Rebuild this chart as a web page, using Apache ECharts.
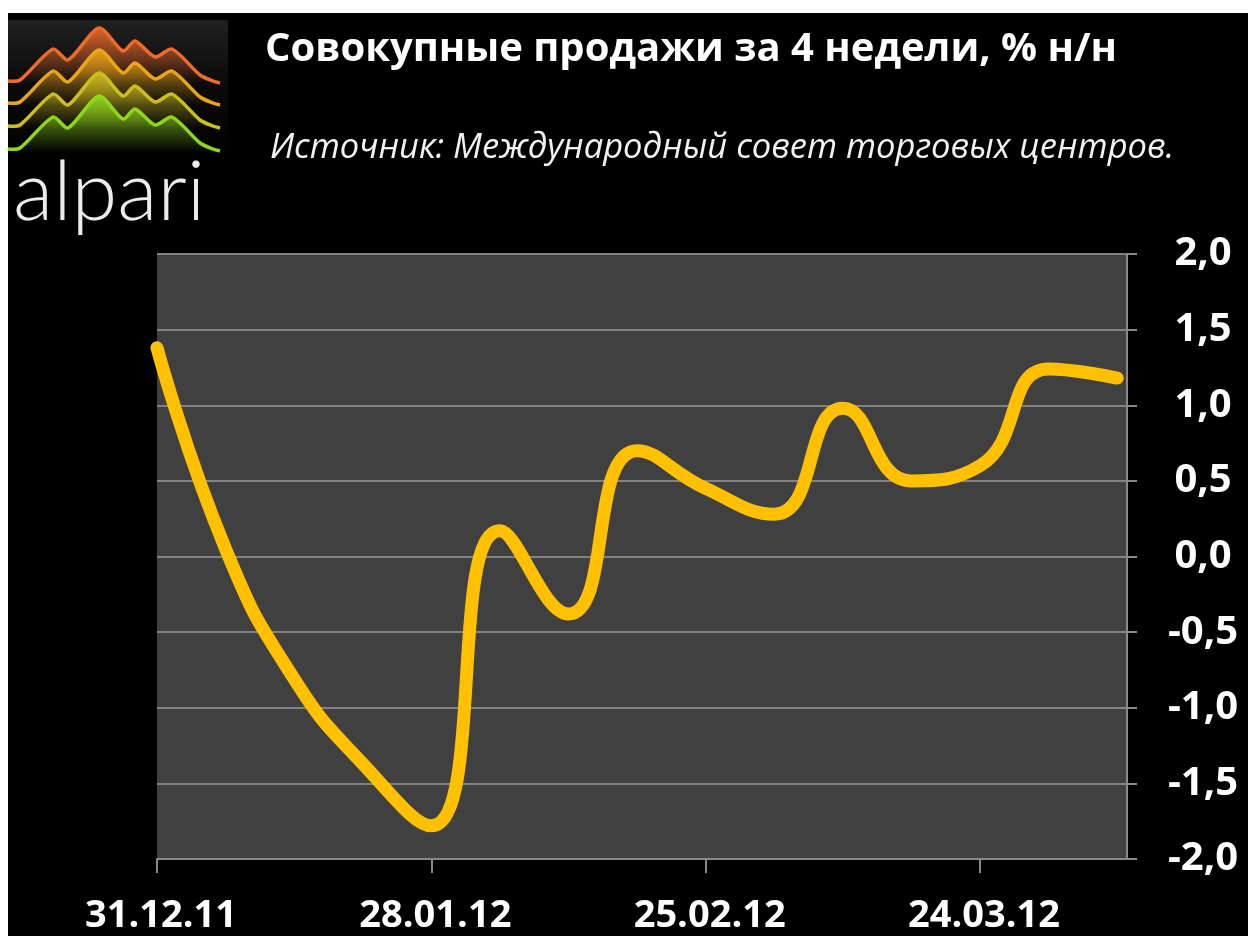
<!DOCTYPE html>
<html>
<head>
<meta charset="utf-8">
<script src="https://cdn.jsdelivr.net/npm/echarts@6/dist/echarts.min.js"></script>
<style>
html,body{margin:0;padding:0;background:#ffffff;width:1248px;height:936px;overflow:hidden;}
#main{position:absolute;left:8px;top:13px;width:1240px;height:923px;background:#000000;}
</style>
</head>
<body>
<div id="main"></div>
<script>
// ---- data ----
const dates = ['31.12.11','07.01.12','14.01.12','21.01.12','28.01.12','04.02.12','11.02.12','18.02.12',
               '25.02.12','03.03.12','10.03.12','17.03.12','24.03.12','31.03.12','07.04.12'];
const values = [1.38, 0.05, -0.81, -1.37, -1.78, 0.17, -0.38, 0.70, 0.45, 0.28, 0.98, 0.50, 0.60, 1.24, 1.18];
const xTickLabels = ['31.12.11','28.01.12','25.02.12','24.03.12'];
const yTickValues = [-2.0, -1.5, -1.0, -0.5, 0.0, 0.5, 1.0, 1.5, 2.0];
const titleText = 'Совокупные продажи за 4 недели, % н/н';
const subtitleText = 'Источник: Международный совет торговых центров.';
const logoText = 'alpari';

function toDate(s){ const p = s.split('.'); return Date.UTC(2000 + (+p[2]), (+p[1]) - 1, +p[0]); }
const d0 = toDate(dates[0]);
function dayOffset(s){ return Math.round((toDate(s) - d0) / 86400000); }
const seriesData = dates.map((d, i) => [dayOffset(d), values[i]]);

// ---- logo (decoration, chart-local coordinates) ----
const base = [[0,68],[12,67],[45,36],[60,47],[91,15],[115,38],[127,28],[147,44],[164,36],[192,62],[205,68],[212,70]];
const logoColors = ['#ee6b2a', '#eaa616', '#cdbf1e', '#8ed81c'];
const logoOffsets = [0, 22, 45, 68];
const logoEls = [{
  type: 'rect', shape: {x: 0, y: 7, width: 220, height: 140},
  style: {fill: new echarts.graphic.LinearGradient(0,0,0,1,[{offset:0,color:'#202020'},{offset:0.45,color:'#0b0b0b'},{offset:1,color:'#000'}])}
}];
logoColors.forEach((c, k) => {
  const pts = base.map(p => [p[0], p[1] + logoOffsets[k]]);
  const bottom = k === 3 ? 142 : 70 + logoOffsets[k] + 30;
  const poly = pts.concat([[212, bottom], [0, bottom]]);
  logoEls.push({
    type: 'polygon', shape: {points: poly, smooth: 0},
    style: {fill: new echarts.graphic.LinearGradient(0,0,0,1,[{offset:0,color:echarts.color.modifyAlpha(c,0.9)},{offset:k === 3 ? 0.95 : 0.65,color:echarts.color.modifyAlpha(c,0.0)}])}
  });
  logoEls.push({
    type: 'polyline', shape: {points: pts, smooth: 0.25},
    style: {stroke: c, lineWidth: 3.5, fill: null}
  });
});

const chart = echarts.init(document.getElementById('main'), null, {renderer: 'canvas'});
chart.setOption({
  backgroundColor: '#000000',
  animation: false,
  graphic: [
    {type: 'group', children: logoEls},
    {type: 'text', x: 5, y: 139, style: {text: logoText, fill: '#ececec', font: '300 83px Lato, "Open Sans", sans-serif'}},
    {type: 'text', x: 257, y: 17, style: {text: titleText, fill: '#ffffff', font: 'bold 40px "Open Sans", "Noto Sans", sans-serif'}},
    {type: 'text', x: 262, y: 118, style: {text: subtitleText, fill: '#f2f2f2', font: 'italic 34.5px "Open Sans", "Noto Sans", sans-serif'}}
  ],
  grid: {left: 149, top: 241, width: 970, height: 605, show: true, backgroundColor: '#404040', borderWidth: 0},
  xAxis: {
    type: 'value', min: 0, max: 99, interval: 28,
    axisLine: {show: true, onZero: false, lineStyle: {color: '#8a8a8a', width: 2}},
    axisTick: {show: true, length: 14, lineStyle: {color: '#8a8a8a', width: 2}},
    splitLine: {show: false},
    axisLabel: {
      color: '#ffffff', fontSize: 38, fontWeight: 'bold', fontFamily: '"Open Sans", "Noto Sans", sans-serif', margin: 38,
      padding: [0, 0, 0, 8],
      showMaxLabel: false,
      formatter: function(v){ const i = xTickLabels.findIndex(l => dayOffset(l) === v); return i >= 0 ? xTickLabels[i] : ''; }
    }
  },
  yAxis: {
    type: 'value', position: 'right', min: yTickValues[0], max: yTickValues[yTickValues.length-1], interval: 0.5,
    axisLine: {show: true, onZero: false, lineStyle: {color: '#8a8a8a', width: 2}},
    axisTick: {show: true, length: 10, lineStyle: {color: '#8a8a8a', width: 2}},
    splitLine: {show: true, lineStyle: {color: '#828282', width: 2}},
    axisLabel: {
      color: '#ffffff', fontSize: 40, fontWeight: 'bold', fontFamily: '"Open Sans", "Noto Sans", sans-serif',
      align: 'center', margin: 76,
      formatter: function(v){ return v.toFixed(1).replace('.', ','); }
    }
  },
  series: [{
    type: 'line', data: seriesData, smooth: 0.5, showSymbol: false, symbol: 'none',
    lineStyle: {color: '#ffc000', width: 13, cap: 'round', join: 'round'},
    clip: true
  }]
});
</script>
</body>
</html>
